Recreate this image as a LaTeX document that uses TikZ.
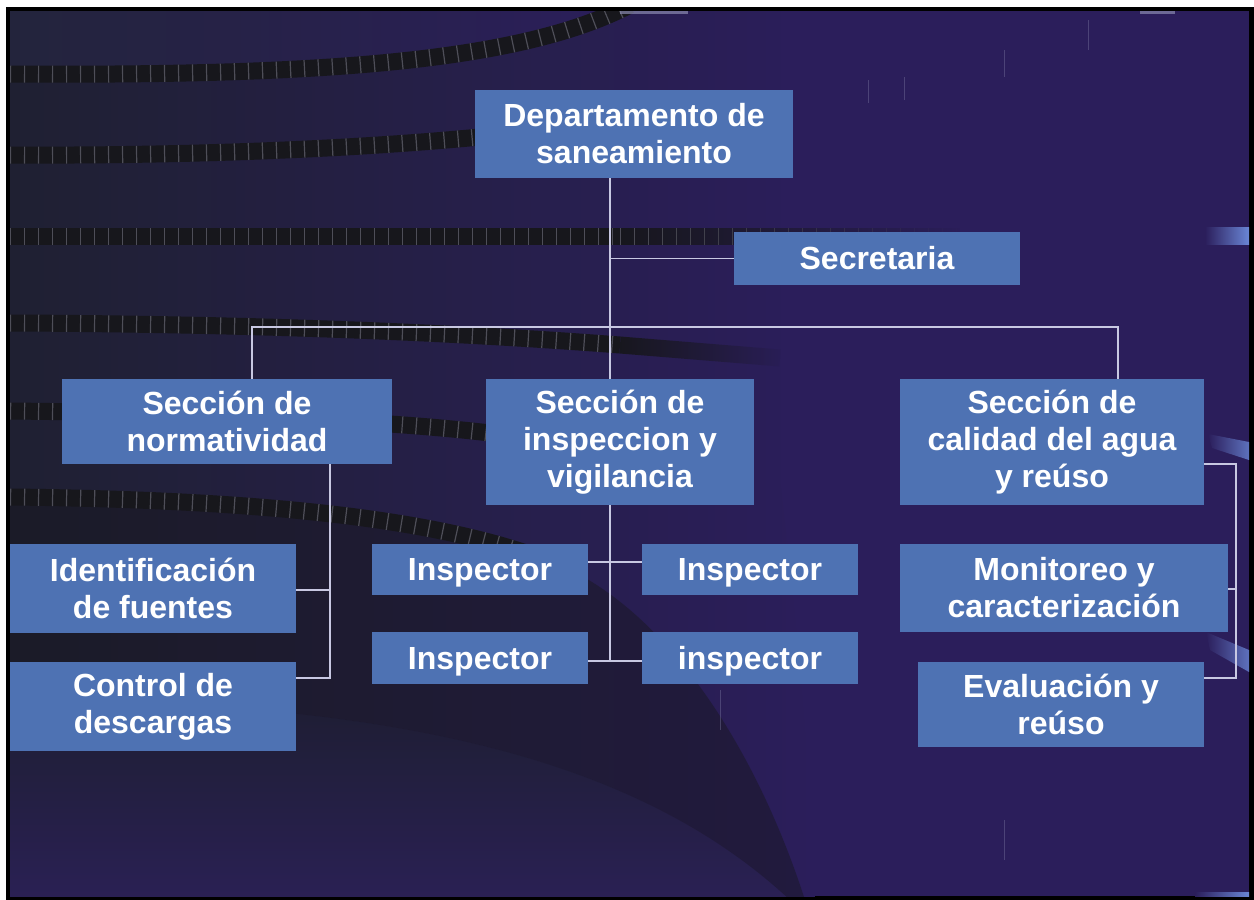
\documentclass[tikz,border=0pt]{standalone}
\usepackage{fontspec}
\setmainfont{Liberation Sans}
\usetikzlibrary{fadings}
\definecolor{bgpurple}{HTML}{2B1E5B}
\definecolor{bgdark}{HTML}{1F2032}
\definecolor{bgtop}{HTML}{23243C}
\definecolor{bgbot}{HTML}{2A2054}
\definecolor{bgmid}{HTML}{1E1E33}
\definecolor{boxblue}{HTML}{4E72B3}
\definecolor{connc}{HTML}{C8C8E2}
\definecolor{stripec}{HTML}{17171C}
\definecolor{tickc}{HTML}{4E4E58}
\definecolor{glow}{HTML}{6A86D6}
\definecolor{faint}{HTML}{8A8AB0}
\tikzset{
  box/.style={rectangle, fill=boxblue, text=white, inner sep=0pt, align=center,
    font=\bfseries\fontsize{16}{18.5}\selectfont},
  conn/.style={draw=connc, line width=0.85pt},
  band/.style={draw=stripec, line width=8.5pt},
  bandtick/.style={draw=tickc, line width=8.5pt, dash pattern=on 0.6pt off 6.4pt},
  faintline/.style={draw=faint, line width=0.5pt, opacity=0.35},
}
\begin{document}
\begin{tikzpicture}[x=0.5pt,y=-0.5pt]
\useasboundingbox (0,0) rectangle (1254,900);
\fill[white] (0,0) rectangle (1254,900);
\fill[black] (6,7) rectangle (1254,900);
\begin{scope}
\clip (10,11) rectangle (1249,896);
\fill[bgpurple] (10,11) rectangle (1249,896);
% region above the first stripe
\shade[left color=bgtop, right color=bgpurple] (10,5) -- (630,5) .. controls (520,62) and (320,76) .. (10,74) -- cycle;
% dark left region
\shade[left color=bgdark, right color=bgpurple] (10,74) .. controls (320,76) and (520,62) .. (630,5) -- (780,5) -- (780,480) .. controls (800,650) and (810,780) .. (815,900) -- (10,900) -- cycle;
% lower left region (below the swoosh)
\shade[top color=bgmid, bottom color=bgbot] (10,700) .. controls (400,700) and (640,760) .. (790,900) -- (10,900) -- cycle;
% swoosh band
\fill[stripec, opacity=0.45] (10,497) .. controls (300,500) and (480,525) .. (580,575) .. controls (680,630) and (760,760) .. (805,900) -- (790,900) .. controls (640,760) and (400,700) .. (10,700) -- cycle;
% stripes
\draw[band] (10,74) .. controls (320,76) and (520,62) .. (630,5);
\draw[bandtick] (10,74) .. controls (320,76) and (520,62) .. (630,5);
\draw[band] (10,155) .. controls (200,156) and (370,148) .. (490,136);
\draw[bandtick] (10,155) .. controls (200,156) and (370,148) .. (490,136);
\draw[band] (10,236) -- (620,236);
\draw[bandtick] (10,236) -- (620,236);
\draw[band, path fading=east] (620,236) -- (960,236);
\draw[bandtick, path fading=east] (620,236) -- (960,236);
\draw[band] (10,323) .. controls (250,324) and (450,332) .. (620,345);
\draw[bandtick] (10,323) .. controls (250,324) and (450,332) .. (620,345);
\draw[band, path fading=east] (620,345) -- (780,358);
\draw[band] (10,411) .. controls (200,413) and (380,420) .. (490,433);
\draw[bandtick] (10,411) .. controls (200,413) and (380,420) .. (490,433);
\draw[band] (10,497) .. controls (300,500) and (480,525) .. (580,575);
\draw[bandtick] (10,497) .. controls (300,500) and (480,525) .. (580,575);
% light streaks on the right edge
\shade[left color=bgpurple, right color=glow] (1205,227) rectangle (1249,244);
\shade[left color=bgpurple, right color=glow!80!bgpurple] (1208,434) -- (1249,442) -- (1249,460) -- (1212,448) -- cycle;
\shade[left color=bgpurple, right color=glow!80!bgpurple] (1206,632) -- (1249,650) -- (1249,672) -- (1210,650) -- cycle;
\shade[left color=bgpurple, right color=glow] (1195,892) rectangle (1249,896);
\fill[faint, opacity=0.7] (620,11) rectangle (688,14);
\fill[faint, opacity=0.7] (1140,11) rectangle (1175,14);
% faint vertical lines
\draw[faintline] (868,80) -- (868,103);
\draw[faintline] (904,77) -- (904,100);
\draw[faintline] (1004,50) -- (1004,77);
\draw[faintline] (1088,20) -- (1088,50);
\draw[faintline] (1088,700) -- (1088,740);
\draw[faintline] (1004,820) -- (1004,860);
\draw[faintline] (720,690) -- (720,730);
\end{scope}

% boxes
\node[box, minimum width=159pt, minimum height=44pt] (dept) at (634,134) {Departamento de\\saneamiento};
\node[box, minimum width=143pt, minimum height=26.5pt] (secr) at (877,258.5) {Secretaria};
\node[box, minimum width=165pt, minimum height=42.5pt] (norm) at (227,421.5) {Sección de\\normatividad};
\node[box, minimum width=134pt, minimum height=63pt] (insp) at (620,442) {Sección de\\inspeccion y\\vigilancia};
\node[box, minimum width=152pt, minimum height=63pt] (cal) at (1052,442) {Sección de\\calidad del agua\\y reúso};
\node[box, minimum width=143pt, minimum height=44.5pt] (ident) at (153,588.5) {Identificación\\de fuentes};
\node[box, minimum width=143pt, minimum height=44.5pt] (ctrl) at (153,706.5) {Control de\\descargas};
\node[box, minimum width=108pt, minimum height=25.5pt, text depth=0pt] (ia) at (480,569.5) {Inspector};
\node[box, minimum width=108pt, minimum height=25.5pt, text depth=0pt] (ib) at (750,569.5) {Inspector};
\node[box, minimum width=108pt, minimum height=26pt, text depth=0pt] (ic) at (480,658) {Inspector};
\node[box, minimum width=108pt, minimum height=26pt, text depth=0pt] (id) at (750,658) {inspector};
\node[box, minimum width=164pt, minimum height=44pt] (mon) at (1064,588) {Monitoreo y\\caracterización};
\node[box, minimum width=143pt, minimum height=42.5pt] (eval) at (1061,704.5) {Evaluación y\\reúso};

% connector coordinates
\coordinate (trunk) at (610,327);
\coordinate (busl) at (252,327);
\coordinate (busr) at (1118,327);
\coordinate (nv1) at (330,590);
\coordinate (nv2) at (330,678);
\coordinate (iv1) at (610,562);
\coordinate (iv2) at (610,661);
\coordinate (cv1) at (1236,464);
\coordinate (cv2) at (1236,589);
\coordinate (cv3) at (1236,678);

% connectors
\draw[conn] (dept.south -| trunk) -- (insp.north -| trunk);
\draw[conn] (secr.west -| trunk) -- (secr.west);
\draw[conn] (norm.north -| busl) -- (busl) -- (busr) -- (cal.north -| busr);
\draw[conn] (norm.south -| nv1) -- (nv2) -- (nv2 -| ctrl.east);
\draw[conn] (nv1) -- (nv1 -| ident.east);
\draw[conn] (insp.south -| iv1) -- (iv2);
\draw[conn] (iv1 -| ia.east) -- (iv1 -| ib.west);
\draw[conn] (iv2 -| ic.east) -- (iv2 -| id.west);
\draw[conn] (cv1 -| cal.east) -- (cv1) -- (cv3) -- (cv3 -| eval.east);
\draw[conn] (cv2) -- (cv2 -| mon.east);
\end{tikzpicture}
\end{document}
